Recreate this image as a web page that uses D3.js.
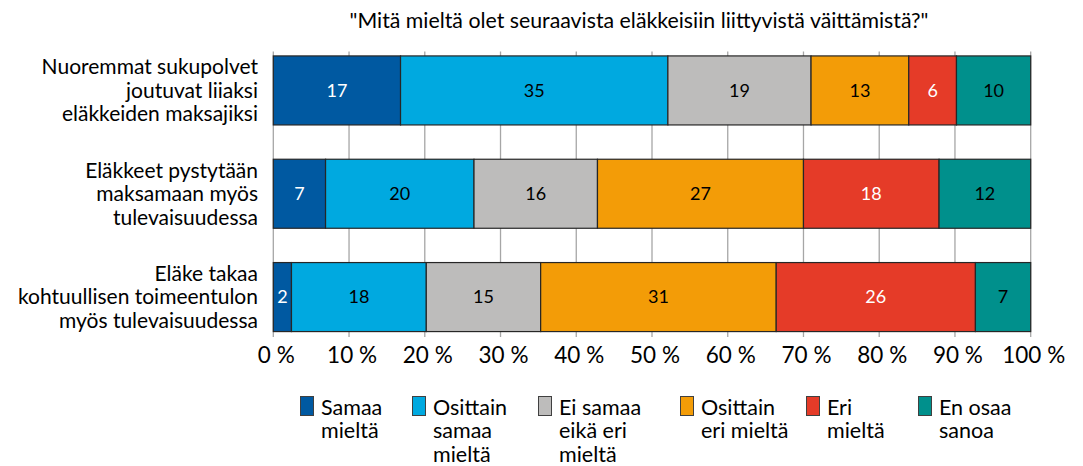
<!DOCTYPE html>
<html><head><meta charset="utf-8">
<script src="https://cdnjs.cloudflare.com/ajax/libs/d3/7.8.5/d3.min.js"></script>
<style>body{margin:0;background:#fff;} text{font-family:Lato, "Open Sans", sans-serif;}</style>
</head><body><svg id="c" width="1083" height="466"></svg>
<script>
const title = '"Mitä mieltä olet seuraavista eläkkeisiin liittyvistä väittämistä?"';
const categories = [
  ["Nuoremmat sukupolvet", "joutuvat liiaksi", "eläkkeiden maksajiksi"],
  ["Eläkkeet pystytään", "maksamaan myös", "tulevaisuudessa"],
  ["Eläke takaa", "kohtuullisen toimeentulon", "myös tulevaisuudessa"]
];
const seriesNames = [
  ["Samaa", "mieltä"],
  ["Osittain", "samaa", "mieltä"],
  ["Ei samaa", "eikä eri", "mieltä"],
  ["Osittain", "eri mieltä"],
  ["Eri", "mieltä"],
  ["En osaa", "sanoa"]
];
const samaa     = [16.8, 6.9, 2.4];
const osSamaa   = [35.3, 19.6, 17.8];
const eiSamaa   = [18.9, 16.3, 15.1];
const osEri     = [12.9, 27.2, 31.1];
const eri       = [6.3, 17.9, 26.3];
const enOsaa    = [9.8, 12.1, 7.3];
const tickValues = [0,10,20,30,40,50,60,70,80,90,100];
const tickLabels = ["0 %","10 %","20 %","30 %","40 %","50 %","60 %","70 %","80 %","90 %","100 %"];

const colors = ["#0059A1","#00A9E0","#BDBCBB","#F39C07","#E53B28","#00908C"];
const labelColors = ["#fff","#000","#000","#000","#fff","#000"];
const series = [samaa, osSamaa, eiSamaa, osEri, eri, enOsaa];

const svg = d3.select("#c");
const x = d3.scaleLinear().domain([0,100]).range([273.3, 1030.7]);
const y = d3.scaleBand().domain(d3.range(categories.length)).range([52, 335.5]).paddingInner(0.332).paddingOuter(0.038);

svg.append("text").attr("x", 639).attr("y", 21).attr("dy","0.35em").attr("text-anchor","middle")
  .attr("font-size", 21.3).attr("fill","#000").text(title);

// gridlines
svg.append("g").selectAll("line").data(tickValues).join("line")
  .attr("x1", d=>x(d)).attr("x2", d=>x(d)).attr("y1", 51.5).attr("y2", 337)
  .attr("stroke", "#A6A6A6").attr("stroke-width", 1.3);

// tick labels
svg.append("g").selectAll("text").data(tickValues).join("text")
  .attr("x", d=>x(d)+3).attr("y", 355).attr("dy","0.35em").attr("text-anchor","middle")
  .attr("font-size", 22.5).attr("fill","#000").text((d,i)=>tickLabels[i]);

// stacked data
const rows = categories.map((c,i)=>{
  let acc = 0;
  return series.map((s,j)=>{ const o={row:i, s:j, v:s[i], x0:acc, x1:acc+s[i]}; acc+=s[i]; return o; });
});
const segs = rows.flat();
svg.append("g").selectAll("rect").data(segs).join("rect")
  .attr("x", d=>x(d.x0)).attr("width", d=>x(d.x1)-x(d.x0))
  .attr("y", d=>y(d.row)).attr("height", y.bandwidth())
  .attr("fill", d=>colors[d.s]).attr("stroke", "#262626").attr("stroke-width", 1.2);

svg.append("g").selectAll("text").data(segs).join("text")
  .attr("x", d=>(x(d.x0)+x(d.x1))/2).attr("y", d=>y(d.row)+y.bandwidth()/2)
  .attr("dy","0.35em").attr("text-anchor","middle").attr("font-size", 18)
  .attr("fill", d=>labelColors[d.s]).text(d=>d3.format(".0f")(d.v));

// category labels
const cat = svg.append("g").selectAll("text").data(categories).join("text")
  .attr("text-anchor","end").attr("font-size", 21).attr("fill","#000");
cat.each(function(lines,i){
  const cy = y(i)+y.bandwidth()/2;
  d3.select(this).selectAll("tspan").data(lines).join("tspan")
    .attr("x", 258).attr("y",(d,k)=>cy+(k-1)*23.6).attr("dy","0.35em").text(d=>d);
});

// legend
const legX = [300, 412, 538, 680, 806, 918];
const leg = svg.append("g").selectAll("g").data(seriesNames).join("g")
  .attr("transform",(d,i)=>`translate(${legX[i]},396)`);
leg.append("rect").attr("x",0.5).attr("y",0.5).attr("width",13).attr("height",19)
  .attr("fill",(d,i)=>colors[i]).attr("stroke","#404040").attr("stroke-width",1);
leg.append("text").attr("font-size",21.5).attr("fill","#000")
  .selectAll("tspan").data(d=>d).join("tspan")
  .attr("x",21).attr("y",(d,k)=>11+k*23.5).attr("dy","0.35em").text(d=>d);
</script></body></html>
